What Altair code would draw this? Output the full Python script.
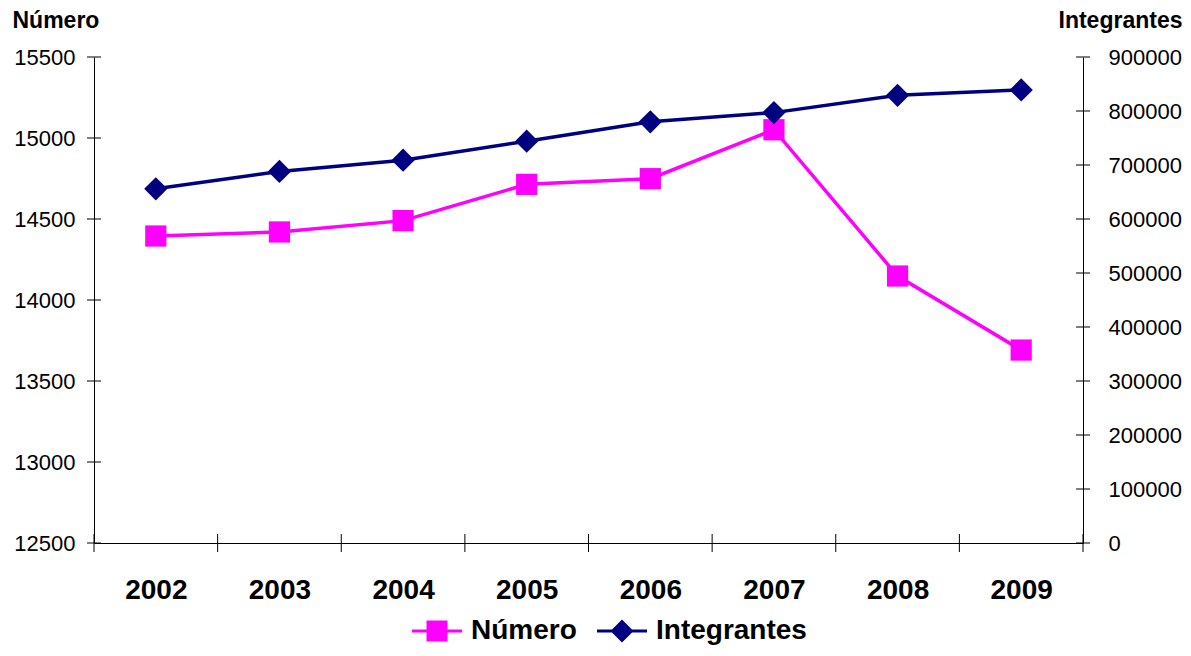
import altair as alt
import pandas as pd

# ---- data ----
years = [2002, 2003, 2004, 2005, 2006, 2007, 2008, 2009]
numero = [14395, 14420, 14490, 14714, 14749, 15051, 14148, 13691]
integrantes = [656000, 688000, 709000, 744000, 780000, 797000, 829000, 839000]
series_names = ["Número", "Integrantes"]
left_ticks = [12500, 13000, 13500, 14000, 14500, 15000, 15500]
right_ticks = [0, 100000, 200000, 300000, 400000, 500000, 600000, 700000, 800000, 900000]
x_bounds = [2001.5, 2002.5, 2003.5, 2004.5, 2005.5, 2006.5, 2007.5, 2008.5, 2009.5]

FONT = "Liberation Sans"
W, H = 989, 486
MAGENTA = "#FF00FF"
NAVY = "#000080"

df_num = pd.DataFrame({"year": years, "value": numero})
df_int = pd.DataFrame({"year": years, "value": integrantes})
df_lt = pd.DataFrame({"value": left_ticks})
df_rt = pd.DataFrame({"value": right_ticks})
df_xb = pd.DataFrame({"year": x_bounds})
df_leg = pd.DataFrame({"series": series_names})

x_scale = alt.Scale(domain=[2001.5, 2009.5], nice=False, zero=False)
x_axis = alt.Axis(values=years, format="d", title=None, ticks=False, tickSize=0,
                  labelPadding=33, labelFontSize=28, labelFontWeight="bold",
                  labelFont=FONT, labelColor="black", domainColor="black",
                  domainWidth=1, grid=False, labelFlush=False)

yl_scale = alt.Scale(domain=[12500, 15500], nice=False, zero=False)
yl_axis = alt.Axis(values=left_ticks, format="d", title="Número", titleAngle=0,
                   titleAlign="left", titleBaseline="alphabetic", titleX=-82, titleY=-30,
                   titleFontSize=23, titleFontWeight="bold", titleFont=FONT, titleColor="black",
                   ticks=False, tickSize=0, labelPadding=19, labelFontSize=22, labelFont=FONT,
                   labelColor="black", domainColor="black", domainWidth=1, grid=False,
                   labelFlush=False)

yr_scale = alt.Scale(domain=[0, 900000], nice=False, zero=True)
yr_axis = alt.Axis(values=right_ticks, format="d", orient="right", title="Integrantes",
                   titleAngle=0, titleAlign="right", titleBaseline="alphabetic",
                   titleX=99, titleY=-30, titleFontSize=23, titleFontWeight="bold",
                   titleFont=FONT, titleColor="black", ticks=False, tickSize=0,
                   labelPadding=25, labelFontSize=22, labelFont=FONT, labelColor="black",
                   domainColor="black", domainWidth=1, grid=False, labelFlush=False)

# ---- Número group (left axis) ----
num_line = alt.Chart(df_num).mark_line(color=MAGENTA, strokeWidth=3.5).encode(
    x=alt.X("year:Q", scale=x_scale, axis=x_axis),
    y=alt.Y("value:Q", scale=yl_scale, axis=yl_axis),
)
num_pts = alt.Chart(df_num).mark_point(filled=True, shape="square", size=450,
                                       opacity=1, color=MAGENTA).encode(
    x=alt.X("year:Q"), y=alt.Y("value:Q"))
lt_rules = alt.Chart(df_lt).mark_rule(color="black", strokeWidth=1).encode(
    y=alt.Y("value:Q"), x=alt.value(-7), x2=alt.value(7))
xb_rules = alt.Chart(df_xb).mark_rule(color="black", strokeWidth=1).encode(
    x=alt.X("year:Q"), y=alt.value(H - 9), y2=alt.value(H + 9))
num_group = alt.layer(num_line, lt_rules, xb_rules, num_pts)

# ---- Integrantes group (right axis) ----
int_line = alt.Chart(df_int).mark_line(color=NAVY, strokeWidth=3.5).encode(
    x=alt.X("year:Q"),
    y=alt.Y("value:Q", scale=yr_scale, axis=yr_axis),
)
int_pts = alt.Chart(df_int).mark_point(filled=True, shape="diamond", size=540,
                                       opacity=1, color=NAVY).encode(
    x=alt.X("year:Q"), y=alt.Y("value:Q"))
rt_rules = alt.Chart(df_rt).mark_rule(color="black", strokeWidth=1).encode(
    y=alt.Y("value:Q"), x=alt.value(W - 7), x2=alt.value(W + 7))
int_group = alt.layer(int_line, rt_rules, int_pts)

# ---- legend-only layer ----
sq_path = ("M-1,-0.06L1,-0.06L1,0.06L-1,0.06Z "
           "M-0.42,-0.42L0.42,-0.42L0.42,0.42L-0.42,0.42Z")
di_path = ("M-1,-0.06L1,-0.06L1,0.06L-1,0.06Z "
           "M0,-0.46L0.46,0L0,0.46L-0.46,0Z")
leg = alt.Legend(orient="none", legendX=318, legendY=549, direction="horizontal",
                 title=None, labelFontSize=28, labelFontWeight="bold", labelFont=FONT,
                 labelColor="black", symbolSize=2500, symbolStrokeWidth=0,
                 symbolOpacity=1, labelOffset=9, columnPadding=20, padding=0,
                 labelLimit=400)
legend_layer = alt.Chart(df_leg).transform_filter("false").mark_point(
    filled=True, size=2500, opacity=1).encode(
    color=alt.Color("series:N", scale=alt.Scale(domain=series_names, range=[MAGENTA, NAVY]),
                    legend=leg),
    shape=alt.Shape("series:N", scale=alt.Scale(domain=series_names, range=[sq_path, di_path]),
                    legend=leg),
)

chart = alt.layer(num_group, int_group, legend_layer).resolve_scale(
    y="independent"
).properties(
    width=W, height=H,
    autosize=alt.AutoSizeParams(type="none"),
    padding={"left": 86, "top": 49, "right": 100, "bottom": 104},
    background="white",
).configure_view(strokeWidth=0)

chart.save("out.html", embed_options={"renderer": "svg", "actions": False})
